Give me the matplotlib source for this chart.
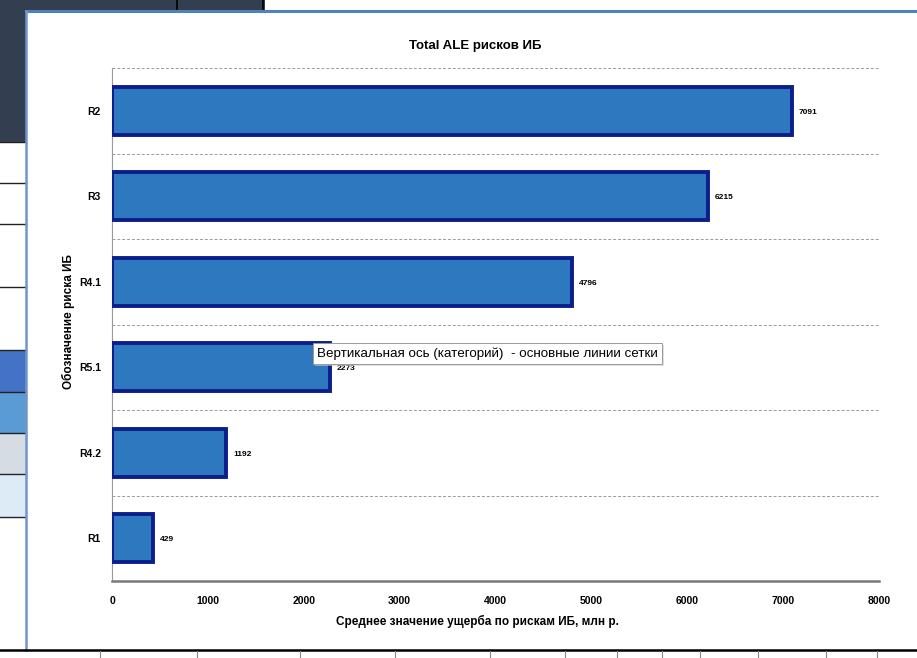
import matplotlib
matplotlib.use("Agg")
import matplotlib.pyplot as plt
from matplotlib.patches import Rectangle, FancyBboxPatch
import numpy as np

# Data (bottom to top, as Excel draws a bar chart)
categories = ["R1", "R4.2", "R5.1", "R4.1", "R3", "R2"]
values = [429, 1192, 2273, 4796, 6215, 7091]
x_ticks = [0, 1000, 2000, 3000, 4000, 5000, 6000, 7000, 8000]

TITLE = "Total ALE рисков ИБ"
X_LABEL = "Среднее значение ущерба по рискам ИБ, млн р."
Y_LABEL = "Обозначение риска ИБ"
TOOLTIP = "Вертикальная ось (категорий)  - основные линии сетки"

W, H = 917, 658
FONT = ["Liberation Sans Narrow", "Liberation Sans", "DejaVu Sans"]
plt.rcParams["font.family"] = FONT

fig = plt.figure(figsize=(W / 100, H / 100), dpi=100)


def px(x, y):
    # pixel coords (top-left origin) -> figure fraction
    return x / W, 1 - y / H


def rect(x0, y0, x1, y1, **kw):
    fx, fy = px(x0, y1)
    r = Rectangle((fx, fy), (x1 - x0) / W, (y1 - y0) / H,
                  transform=fig.transFigure, **kw)
    fig.add_artist(r)
    return r


def hline(y, x0, x1, **kw):
    fig.add_artist(plt.Line2D([x0 / W, x1 / W], [1 - y / H, 1 - y / H],
                              transform=fig.transFigure, **kw))


def vline(x, y0, y1, **kw):
    fig.add_artist(plt.Line2D([x / W, x / W], [1 - y0 / H, 1 - y1 / H],
                              transform=fig.transFigure, **kw))


# --- spreadsheet background around the chart ---
dark = "#333f50"
rect(0, 0, 265, 11, facecolor=dark, edgecolor="none", zorder=0)
rect(0, 0, 26, 142, facecolor=dark, edgecolor="none", zorder=0)
vline(177, 0, 11, color="black", lw=1.2)
vline(263, 0, 11, color="black", lw=1.2)

cells = [(350, 392, "#4472c4"), (392, 433, "#5b9bd5"),
         (433, 474, "#d6dce4"), (474, 517, "#ddebf7")]
for y0, y1, c in cells:
    rect(0, y0, 26, y1, facecolor=c, edgecolor="none", zorder=0)
for y in [142, 183, 224, 287, 350, 392, 433, 474, 517]:
    hline(y, 0, 26, color="#222222", lw=1.0)

# chart panel border
hline(11, 26, W, color="#4f81bd", lw=2.2)
vline(26, 11, 650, color="#6f95cc", lw=1.8)
# bottom sheet row
hline(650, 0, W, color="black", lw=1.8)
for x in [100, 197, 300, 395, 490, 565, 617, 662, 700, 758, 826, 877]:
    vline(x, 651, H, color="#888888", lw=0.8)

# --- chart ---
left, right, top, bottom = 112, 879, 68, 581
ax = fig.add_axes([left / W, 1 - bottom / H, (right - left) / W, (bottom - top) / H])
ax.set_facecolor("none")

y = np.arange(len(categories))
bars = ax.barh(y, values, height=0.56, color="#2e78c0",
               edgecolor="#0b1e8c", linewidth=2.8, zorder=3)

for b, v in zip(bars, values):
    ax.text(b.get_width() + 70, b.get_y() + b.get_height() / 2 - 0.02, str(v),
            ha="left", va="center", fontsize=6, fontweight="bold", zorder=4)

ax.set_xlim(0, 8000)
ax.set_ylim(-0.5, len(categories) - 0.5)
ax.set_xticks(x_ticks)
ax.set_xticklabels([str(t) for t in x_ticks], fontsize=7.5, fontweight="bold")
ax.set_yticks(y)
ax.set_yticklabels(categories, fontsize=7.5, fontweight="bold")
ax.tick_params(axis="both", length=0)
ax.tick_params(axis="x", pad=11)
ax.tick_params(axis="y", pad=8)

# category gridlines between bars (dashed)
ax.set_yticks(np.arange(-0.5, len(categories), 1.0), minor=True)
ax.tick_params(axis="y", which="minor", length=0)
ax.grid(axis="y", which="minor", linestyle=(0, (3, 2)), color="#9a9a9a", lw=0.7)
ax.grid(axis="y", which="major", visible=False)

for s in ["top", "right"]:
    ax.spines[s].set_visible(False)
ax.spines["left"].set_color("#9a9a9a")
ax.spines["left"].set_linewidth(0.8)
ax.spines["bottom"].set_color("#7a7a7a")
ax.spines["bottom"].set_linewidth(1.8)

fig.text(*px(475, 46), TITLE, ha="center", va="center",
         fontsize=9.5, fontweight="bold")
fig.text(*px(477, 621), X_LABEL, ha="center", va="center",
         fontsize=8.5, fontweight="bold")
fig.text(*px(68, 322), Y_LABEL, ha="center", va="center",
         fontsize=8.5, fontweight="bold", rotation=90)

# Excel tooltip
tx0, ty0, tx1, ty1 = 313, 343, 662, 364
shadow = FancyBboxPatch(px(tx0 + 2, ty1 + 2), (tx1 - tx0) / W, (ty1 - ty0) / H,
                        boxstyle="square,pad=0", transform=fig.transFigure,
                        facecolor="#cccccc", edgecolor="none", alpha=0.6, zorder=9)
fig.add_artist(shadow)
box = FancyBboxPatch(px(tx0, ty1), (tx1 - tx0) / W, (ty1 - ty0) / H,
                     boxstyle="square,pad=0", transform=fig.transFigure,
                     facecolor="white", edgecolor="#9a9a9a", lw=0.7, zorder=10)
fig.add_artist(box)
fig.text(*px(tx0 + 4, (ty0 + ty1) / 2), TOOLTIP, ha="left", va="center",
         fontsize=9.6, family=["Liberation Sans", "DejaVu Sans"], zorder=11)

fig.savefig("out.png", dpi=100)
